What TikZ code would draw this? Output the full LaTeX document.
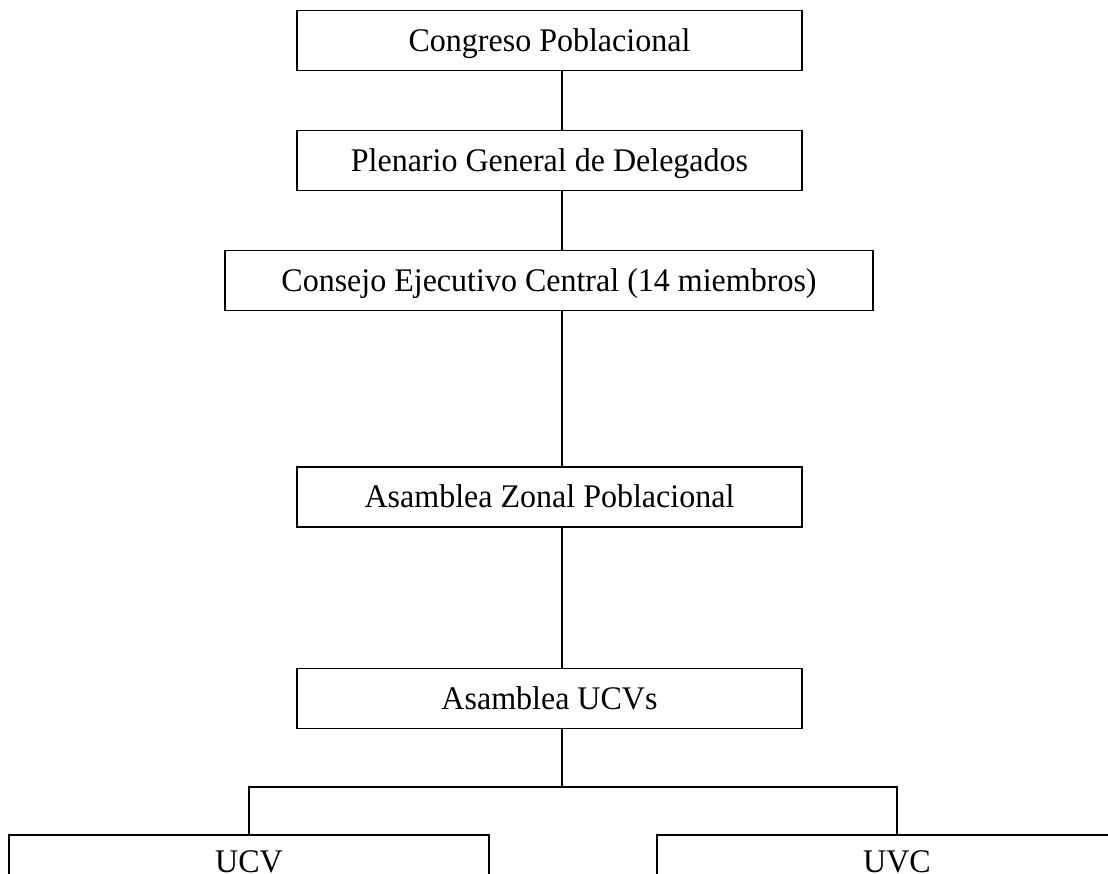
\documentclass[tikz,border=0pt]{standalone}
\usepackage{fontspec}
\setmainfont{Liberation Serif}[FakeStretch=0.97]
\begin{document}
\begin{tikzpicture}[x=1pt,y=-1pt,
  orgbox/.style={draw,line width=1.6pt,minimum height=60pt,inner sep=0pt,
    font=\fontsize{33}{38}\selectfont,text height=21.8pt,text depth=0pt},
  link/.style={line width=1.2pt}]
\useasboundingbox (0,0) rectangle (1108,874);
\clip (0,0) rectangle (1108,874);
\fill[white] (0,0) rectangle (1108,874);
\node[orgbox,minimum width=505pt] (cong) at (549.5,40.7) {Congreso Poblacional};
\node[orgbox,minimum width=505pt] (plen) at (549.5,160.7) {Plenario General de Delegados};
\node[orgbox,minimum width=648pt] (cons) at (549,280.7) {Consejo Ejecutivo Central (14 miembros)};
\node[orgbox,minimum width=505pt] (zon) at (549.5,496.7) {Asamblea Zonal Poblacional};
\node[orgbox,minimum width=505pt] (ucvs) at (549.5,698.3) {Asamblea UCVs};
\node[orgbox,minimum width=480pt,minimum height=54pt] (ucv) at (249,862) {UCV};
\node[orgbox,minimum width=480pt,minimum height=54pt] (uvc) at (897,862) {UVC};
\coordinate (spine) at (562,0);
\coordinate (bar) at (562,786.7);
\draw[link] (cong.south -| spine) -- (plen.north -| spine);
\draw[link] (plen.south -| spine) -- (cons.north -| spine);
\draw[link] (cons.south -| spine) -- (zon.north -| spine);
\draw[link] (zon.south -| spine) -- (ucvs.north -| spine);
\draw[link] (ucvs.south -| spine) -- (bar);
\draw[line width=1.6pt] (ucv.north) -- (ucv.north |- bar) -- (uvc.north |- bar) -- (uvc.north);
\end{tikzpicture}
\end{document}
